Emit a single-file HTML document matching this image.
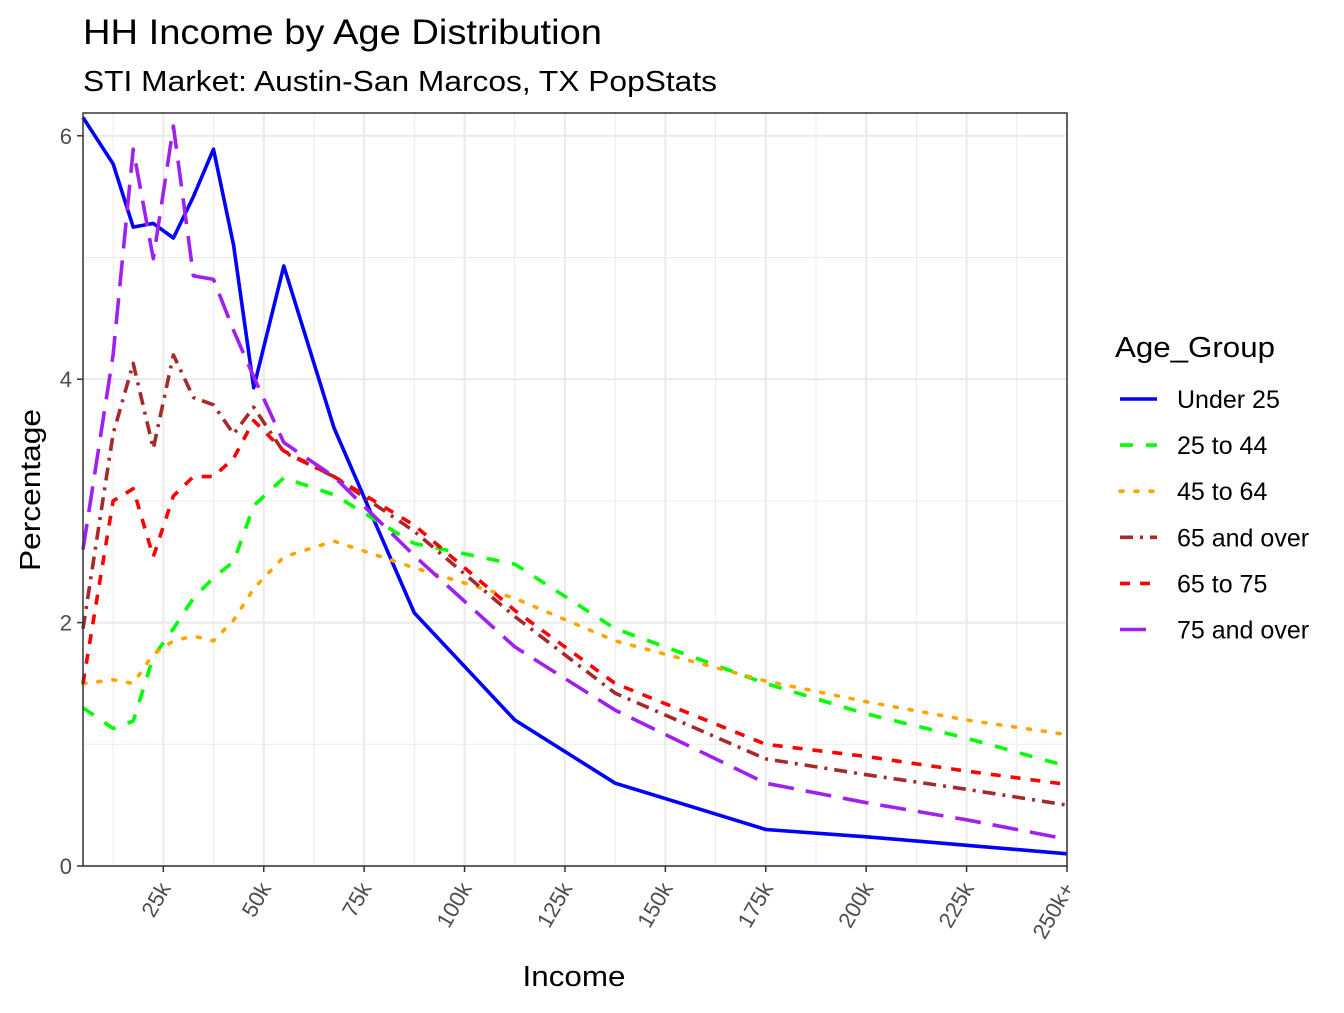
<!DOCTYPE html>
<html><head><meta charset="utf-8"><style>
body{margin:0;background:#fff;font-family:"Liberation Sans",Arial,sans-serif}
svg text{font-family:"Liberation Sans",Arial,sans-serif}
</style></head><body>
<svg id="chart" width="1344" height="1008">
<text x="83" y="44" font-size="35" textLength="519" lengthAdjust="spacingAndGlyphs" fill="#000">HH Income by Age Distribution</text>
<text x="83" y="91" font-size="29" textLength="634" lengthAdjust="spacingAndGlyphs" fill="#000">STI Market: Austin-San Marcos, TX PopStats</text>
<g id="grid"></g><g id="lines"></g><g id="axes"></g>
<rect x="83" y="113" width="984" height="753" fill="none" stroke="#333" stroke-width="1.5"/>
<text x="574" y="986" font-size="29" textLength="103" lengthAdjust="spacingAndGlyphs" text-anchor="middle">Income</text>
<text transform="translate(40,490) rotate(-90)" font-size="29" textLength="162" lengthAdjust="spacingAndGlyphs" text-anchor="middle">Percentage</text>
<text x="1115" y="357" font-size="29" textLength="160" lengthAdjust="spacingAndGlyphs">Age_Group</text>
<g id="legend"></g>
</svg>
<script>
const incomes=[5,12.5,17.5,22.5,27.5,32.5,37.5,42.5,47.5,55,67.5,87.5,112.5,137.5,175,200,225,250];
const under25=[6.15,5.77,5.25,5.28,5.16,5.5,5.89,5.1,3.93,4.93,3.6,2.08,1.2,0.68,0.3,0.24,0.17,0.1];
const age25to44=[1.3,1.13,1.19,1.72,1.95,2.2,2.37,2.5,2.96,3.19,3.05,2.65,2.48,1.95,1.5,1.25,1.05,0.82];
const age45to64=[1.5,1.53,1.5,1.74,1.85,1.89,1.85,2.02,2.28,2.54,2.67,2.45,2.2,1.85,1.52,1.35,1.2,1.08];
const age65over=[1.95,3.55,4.13,3.43,4.2,3.85,3.79,3.55,3.77,3.4,3.2,2.75,2.05,1.42,0.88,0.75,0.63,0.5];
const age65to75=[1.5,3.0,3.1,2.54,3.04,3.2,3.2,3.35,3.66,3.41,3.2,2.8,2.1,1.5,1.0,0.9,0.78,0.67];
const age75over=[2.6,4.2,5.89,4.99,6.08,4.85,4.82,4.4,4.02,3.48,3.2,2.55,1.8,1.28,0.68,0.52,0.38,0.22];
const xTicks=[25,50,75,100,125,150,175,200,225,250];
const xTickLabels=["25k","50k","75k","100k","125k","150k","175k","200k","225k","250k+"];
const yTicks=[0,2,4,6];
const seriesNames=["Under 25","25 to 44","45 to 64","65 and over","65 to 75","75 and over"];
const NS="http://www.w3.org/2000/svg";
const X=k=>83+(k-5)*984/245;
const Y=v=>866-v*121.7;
function mk(t,a,p){const e=document.createElementNS(NS,t);for(const k in a)e.setAttribute(k,a[k]);p.appendChild(e);return e;}
const grid=document.getElementById('grid'),axes=document.getElementById('axes'),lines=document.getElementById('lines'),leg=document.getElementById('legend');
for(let v=1;v<6;v+=2){const l=mk('line',{x1:83,x2:1067,y1:Y(v),y2:Y(v),stroke:'#ebebeb','stroke-width':1},grid);}
for(let k=12.5;k<250;k+=25){const l=mk('line',{x1:X(k),x2:X(k),y1:113,y2:866,stroke:'#ebebeb','stroke-width':1},grid);}
yTicks.forEach(v=>{const l=mk('line',{x1:83,x2:1067,y1:Y(v),y2:Y(v),stroke:'#ebebeb','stroke-width':2.2},grid);
const t=mk('line',{x1:77,x2:83,y1:Y(v),y2:Y(v),stroke:'#333','stroke-width':1.5},axes);
const tx=mk('text',{x:72,y:Y(v)+8,'font-size':22,fill:'#4d4d4d','text-anchor':'end'},axes);tx.textContent=v;});
xTicks.forEach((k,i)=>{const l=mk('line',{x1:X(k),x2:X(k),y1:113,y2:866,stroke:'#ebebeb','stroke-width':2.2},grid);
const t=mk('line',{x1:X(k),x2:X(k),y1:866,y2:872,stroke:'#333','stroke-width':1.5},axes);
const tx=mk('text',{transform:`translate(${X(k)+8},${888}) rotate(-60)`,'font-size':22,fill:'#4d4d4d','text-anchor':'end'},axes);tx.textContent=xTickLabels[i];});
const data=[under25,age25to44,age45to64,age65over,age65to75,age75over];
const colors=['#0000ff','#00ff00','#ffa500','#a52a2a','#ff0000','#a020f0'];
const dashes=['none','13,13','3,12','13,7,3,7','10,10','26,12'];
const caps=['butt','butt','round','butt','butt','butt'];
data.forEach((s,i)=>{const d=s.map((v,j)=>(j?'L':'M')+X(incomes[j]).toFixed(1)+','+Y(v).toFixed(1)).join('');
const p=mk('path',{d,fill:'none',stroke:colors[i],'stroke-width':3.6,'stroke-dasharray':dashes[i],'stroke-linecap':caps[i],'stroke-linejoin':'round'},lines);

const ly=399+i*46.1;const g=mk('g',{},leg);
mk('line',{x1:1120,x2:1157,y1:ly,y2:ly,stroke:colors[i],'stroke-width':3.6,'stroke-dasharray':dashes[i],'stroke-linecap':caps[i]},g);
const t=mk('text',{x:1177,y:ly+9,'font-size':25},g);t.textContent=seriesNames[i];});
</script>
</body></html>
